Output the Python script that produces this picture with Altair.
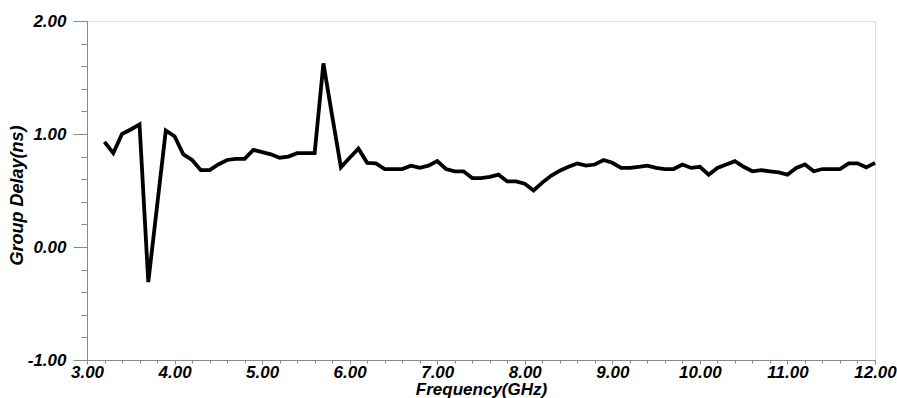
import altair as alt
import pandas as pd

freq = [3.2, 3.3, 3.4, 3.5, 3.6, 3.7, 3.8, 3.9, 4.0, 4.1, 4.2, 4.3, 4.4, 4.5, 4.6, 4.7, 4.8, 4.9,
        5.0, 5.1, 5.2, 5.3, 5.4, 5.5, 5.6, 5.7, 5.8, 5.9, 6.0, 6.1, 6.2, 6.3, 6.4, 6.5, 6.6, 6.7,
        6.8, 6.9, 7.0, 7.1, 7.2, 7.3, 7.4, 7.5, 7.6, 7.7, 7.8, 7.9, 8.0, 8.1, 8.2, 8.3, 8.4, 8.5,
        8.6, 8.7, 8.8, 8.9, 9.0, 9.1, 9.2, 9.3, 9.4, 9.5, 9.6, 9.7, 9.8, 9.9, 10.0, 10.1, 10.2,
        10.3, 10.4, 10.5, 10.6, 10.7, 10.8, 10.9, 11.0, 11.1, 11.2, 11.3, 11.4, 11.5, 11.6, 11.7,
        11.8, 11.9, 12.0]
delay = [0.93, 0.83, 1.00, 1.04, 1.085, -0.31, 0.36, 1.03, 0.98, 0.82, 0.77, 0.68, 0.68, 0.73,
         0.77, 0.78, 0.78, 0.86, 0.84, 0.82, 0.79, 0.80, 0.83, 0.83, 0.83, 1.625, 1.16, 0.705,
         0.79, 0.87, 0.745, 0.74, 0.69, 0.69, 0.69, 0.72, 0.70, 0.72, 0.76, 0.69, 0.67, 0.67,
         0.61, 0.61, 0.62, 0.64, 0.58, 0.58, 0.56, 0.50, 0.57, 0.63, 0.675, 0.71, 0.74, 0.72,
         0.73, 0.77, 0.745, 0.70, 0.70, 0.71, 0.72, 0.70, 0.69, 0.69, 0.73, 0.70, 0.71, 0.64,
         0.70, 0.73, 0.76, 0.71, 0.67, 0.68, 0.67, 0.66, 0.64, 0.70, 0.73, 0.67, 0.69, 0.69,
         0.69, 0.74, 0.74, 0.705, 0.745]

x_major = [3, 4, 5, 6, 7, 8, 9, 10, 11, 12]
y_major = [-1, 0, 1, 2]
x_minor = [round(3 + 0.2 * i, 1) for i in range(46)]
y_minor = [round(-1 + 0.2 * i, 1) for i in range(16)]

df = pd.DataFrame({"f": freq, "d": delay})

FONT = "Liberation Sans"
GREY = "#8a8a8a"
LABEL_EXPR = "datum.value < 0 ? '-' + format(-datum.value, '.2f') : format(datum.value, '.2f')"
xs = alt.Scale(domain=[3, 12], nice=False, zero=False)
ys = alt.Scale(domain=[-1, 2], nice=False, zero=False)

common = dict(labelFont=FONT, labelFontSize=17, labelFontWeight="bold", labelFontStyle="italic",
              labelColor="black", titleFont=FONT, titleFontWeight="bold",
              titleFontStyle="italic", titleColor="black", domainColor=GREY, tickColor=GREY,
              grid=False, labelExpr=LABEL_EXPR)

line = alt.Chart(df).mark_line(color="black", strokeWidth=3.8).encode(
    x=alt.X("f:Q", scale=xs, axis=alt.Axis(values=x_major, title="Frequency(GHz)", tickSize=4,
                                           labelPadding=0, titleBaseline="alphabetic", titleY=34,
                                           titleFontSize=17,
                                           labelFlush=False, labelOverlap=False, **common)),
    y=alt.Y("d:Q", scale=ys, axis=alt.Axis(values=y_major, title="Group Delay(ns)", tickSize=14,
                                           labelPadding=7, titleBaseline="middle", titleX=-70,
                                           titleY=174, titleFontSize=18,
                                           labelFlush=False, labelOverlap=False, **common)),
)

minor = alt.Chart(df).mark_line(opacity=0).encode(
    x=alt.X("f:Q", scale=xs, axis=alt.Axis(values=x_minor, labels=False, title=None, domain=False,
                                           tickSize=3, tickColor=GREY, grid=False, orient="bottom")),
    y=alt.Y("d:Q", scale=ys, axis=alt.Axis(values=y_minor, labels=False, title=None, domain=False,
                                           tickSize=6, tickColor=GREY, grid=False, orient="left")),
)

chart = alt.layer(line, minor).resolve_axis(x="independent", y="independent").properties(
    width=788, height=339, autosize="none",
    padding={"left": 87, "top": 21, "right": 22, "bottom": 38},
).configure_view(stroke=GREY, strokeWidth=1.2).configure(background="white")

chart.save("out.html", embed_options={"renderer": "svg", "actions": False})
